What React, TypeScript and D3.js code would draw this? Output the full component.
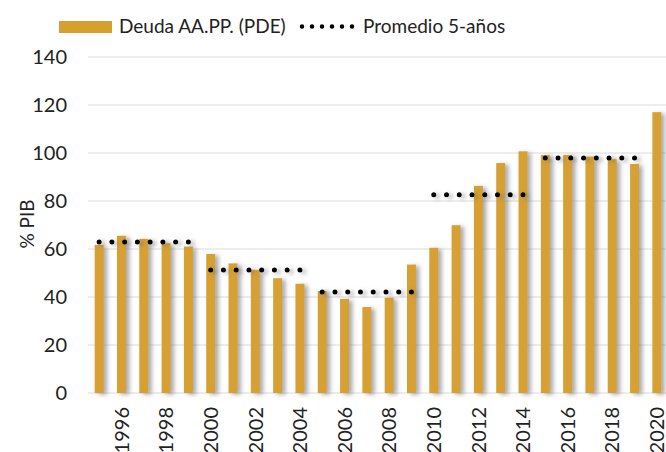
import React from 'react';
import * as d3 from 'd3';

const years = [1995, 1996, 1997, 1998, 1999, 2000, 2001, 2002, 2003, 2004, 2005, 2006, 2007,
  2008, 2009, 2010, 2011, 2012, 2013, 2014, 2015, 2016, 2017, 2018, 2019, 2020];
const debt = [61.7, 65.5, 64.2, 62.4, 61.0, 57.9, 54.0, 51.3, 47.8, 45.5, 42.5, 39.2, 35.8,
  39.7, 53.5, 60.5, 69.9, 86.3, 95.8, 100.7, 99.2, 99.2, 98.5, 97.4, 95.4, 117.0];

const avgFrom = [1995, 2000, 2005, 2010, 2015];
const avgTo = [1999, 2004, 2009, 2014, 2019];
const avgValues = [62.9, 51.3, 42.1, 82.6, 97.9];

const yTicks = [0, 20, 40, 60, 80, 100, 120, 140];
const xLabels = [1996, 1998, 2000, 2002, 2004, 2006, 2008, 2010, 2012, 2014, 2016, 2018, 2020];

const W = 666;
const H = 452;
const font = 'Lato, "Noto Sans", sans-serif';
const gold = '#D6A030';

export default function App() {
  const x = d3.scaleBand<number>()
    .domain(years)
    .range([88, 668])
    .paddingInner(0.6)
    .paddingOuter(0.3);

  const y = d3.scaleLinear()
    .domain([0, 140])
    .range([393, 57]);

  const center = (yr: number) => (x(yr) as number) + x.bandwidth() / 2;

  const avgLine = d3.line<[number, number]>()
    .x(d => d[0])
    .y(d => d[1]);

  return (
    <svg width={W} height={H} style={{ position: 'absolute', left: 0, top: 0, display: 'block' }}>
      <defs>
        <filter id="shadow" x="-50%" y="-10%" width="200%" height="120%">
          <feDropShadow dx="3.5" dy="1.5" stdDeviation="2" floodColor="#666" floodOpacity="0.55" />
        </filter>
      </defs>
      <rect width={W} height={H} fill="#fff" />

      {/* grid */}
      {yTicks.map(t => (
        <g key={t}>
          <line x1={88} x2={W} y1={y(t)} y2={y(t)} stroke="#dcdcdc" strokeWidth={1.2} />
          <text x={67} y={y(t)} dy="0.36em" textAnchor="end" fontFamily={font} fontSize={20} fill="#222">{t}</text>
        </g>
      ))}

      {/* bars */}
      <g filter="url(#shadow)">
        {years.map((yr, i) => (
          <rect key={yr} x={x(yr)} y={y(debt[i])} width={x.bandwidth()} height={y(0) - y(debt[i])} fill={gold} />
        ))}
      </g>

      {/* 5-year averages */}
      <g filter="url(#shadow)">
        {avgValues.map((v, i) => {
          const x0 = center(avgFrom[i]);
          const x1 = center(avgTo[i]);
          const n = 7;
          return (
            <path key={i}
              d={avgLine([[x0, y(v)], [x1 + 0.5, y(v)]]) as string}
              stroke="#000" strokeWidth={5} strokeLinecap="round"
              strokeDasharray={`0 ${(x1 - x0) / n}`} fill="none" />
          );
        })}
      </g>

      {/* x labels */}
      {xLabels.map(yr => (
        <text key={yr} transform={`translate(${center(yr)},407) rotate(-90)`}
          dy="0.36em" textAnchor="end" fontFamily={font} fontSize={20} fill="#222">{yr}</text>
      ))}

      {/* y title */}
      <text transform="translate(27,224) rotate(-90)" dy="0.35em" textAnchor="middle"
        fontFamily={font} fontSize={19} fill="#222">% PIB</text>

      {/* legend */}
      <rect x={59} y={21} width={53} height={12} fill={gold} />
      <text x={119} y={33} fontFamily={font} fontSize={19} fill="#222">Deuda AA.PP. (PDE)</text>
      <path d="M302,26.5H352.5" stroke="#000" strokeWidth={4.5} strokeLinecap="round" strokeDasharray="0 10" />
      <text x={363} y={33} fontFamily={font} fontSize={19} fill="#222">Promedio 5-años</text>
    </svg>
  );
}
